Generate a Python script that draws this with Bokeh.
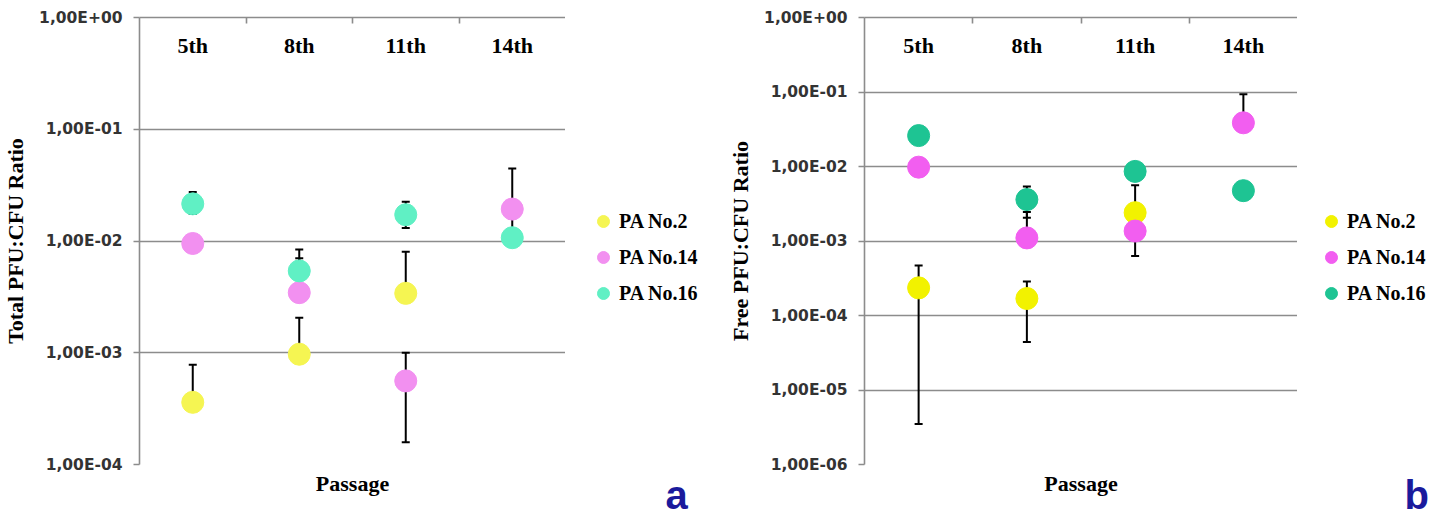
import math
from bokeh.plotting import figure
from bokeh.models import (Range1d, FixedTicker, LinearAxis, Legend, LegendItem, Whisker,
                          TeeHead, ColumnDataSource, CustomJSTickFormatter, Title)
from bokeh.layouts import row
from bokeh.embed import file_html
from bokeh.resources import INLINE
from bokeh.core.properties import value

nan = float("nan")

categories = ["5th", "8th", "11th", "14th"]
series_names = ["PA No.2", "PA No.14", "PA No.16"]

# ---- panel a : Total PFU:CFU ratio ----
a_pa2 = [3.6e-4, 9.7e-4, 3.4e-3, nan]
a_pa2_hi = [7.8e-4, 2.06e-3, 8.0e-3, nan]
a_pa2_lo = [nan, nan, nan, nan]

a_pa14 = [9.5e-3, 3.45e-3, 5.6e-4, 1.93e-2]
a_pa14_hi = [nan, 7.0e-3, 1.0e-3, 4.45e-2]
a_pa14_lo = [nan, nan, 1.58e-4, nan]

a_pa16 = [2.15e-2, 5.4e-3, 1.72e-2, 1.07e-2]
a_pa16_hi = [2.74e-2, 8.4e-3, 2.25e-2, 1.6e-2]
a_pa16_lo = [1.74e-2, nan, 1.31e-2, nan]

a_ticks = [1e-4, 1e-3, 1e-2, 1e-1, 1.0]
a_tick_labels = ["1,00E-04", "1,00E-03", "1,00E-02", "1,00E-01", "1,00E+00"]

# ---- panel b : Free PFU:CFU ratio ----
b_pa2 = [2.35e-4, 1.69e-4, 2.4e-3, nan]
b_pa2_hi = [4.7e-4, 2.87e-4, 5.6e-3, nan]
b_pa2_lo = [3.5e-6, 4.4e-5, nan, nan]

b_pa14 = [9.8e-3, 1.1e-3, 1.36e-3, 3.86e-2]
b_pa14_hi = [nan, 2.45e-3, 2.1e-3, 9.3e-2]
b_pa14_lo = [nan, nan, 6.3e-4, nan]

b_pa16 = [2.6e-2, 3.6e-3, 8.6e-3, 4.74e-3]
b_pa16_hi = [nan, 5.4e-3, nan, nan]
b_pa16_lo = [nan, 2.05e-3, nan, nan]

b_ticks = [1e-6, 1e-5, 1e-4, 1e-3, 1e-2, 1e-1, 1.0]
b_tick_labels = ["1,00E-06", "1,00E-05", "1,00E-04", "1,00E-03", "1,00E-02", "1,00E-01", "1,00E+00"]

a_colors = ["#f5f552", "#f290f0", "#60f0c4"]
b_colors = ["#f2f200", "#f25ef0", "#1ec493"]

GRID = "#8c8c8c"
SERIF = "Liberation Serif"
H = 522
TOP = 17
BOTTOM = 57


def isnum(v):
    return not (isinstance(v, float) and math.isnan(v))


def make_panel(series, ticks, tick_labels, ylabel, colors, border_left, frame_w):
    n = len(categories)
    xs = [i + 0.5 for i in range(n)]
    p = figure(y_axis_type="log", x_range=Range1d(0, n), y_range=Range1d(ticks[0], ticks[-1]),
               width=border_left + frame_w, height=H, sizing_mode="fixed",
               min_border_left=border_left, min_border_right=0,
               min_border_top=TOP, min_border_bottom=BOTTOM,
               output_backend="svg", toolbar_location=None)
    p.outline_line_color = None
    p.background_fill_color = "white"
    p.border_fill_color = "white"

    yticker = FixedTicker(ticks=ticks)
    p.yaxis.ticker = yticker
    p.ygrid.ticker = yticker
    p.ygrid.grid_line_color = GRID
    p.ygrid.grid_line_width = 1.6
    p.xgrid.visible = False

    fmt = CustomJSTickFormatter(args=dict(tvals=ticks, tlabels=tick_labels), code="""
        let best = 0, bd = Infinity;
        for (let i = 0; i < tvals.length; i++) {
            const d = Math.abs(Math.log10(tick) - Math.log10(tvals[i]));
            if (d < bd) { bd = d; best = i; }
        }
        return tlabels[best];
    """)
    ya = p.yaxis[0]
    ya.formatter = fmt
    ya.axis_line_color = GRID
    ya.axis_line_width = 1.6
    ya.major_tick_line_color = GRID
    ya.major_tick_line_width = 1.6
    ya.major_tick_out = 6
    ya.major_tick_in = 0
    ya.minor_tick_line_color = None
    ya.major_label_standoff = 11
    ya.major_label_text_font = "DejaVu Sans"
    ya.major_label_text_font_style = "bold"
    ya.major_label_text_font_size = "15.5px"
    ya.major_label_text_color = "#333333"
    ya.axis_label = ylabel
    ya.axis_label_text_font = SERIF
    ya.axis_label_text_font_style = "bold"
    ya.axis_label_text_font_size = "22px"
    ya.axis_label_text_color = "black"
    ya.axis_label_standoff = 8

    xa = p.xaxis[0]
    xa.ticker = FixedTicker(ticks=[])
    xa.axis_line_color = None
    xa.major_tick_line_color = None
    xa.minor_tick_line_color = None
    xa.axis_label = "Passage"
    xa.axis_label_text_font = SERIF
    xa.axis_label_text_font_style = "bold"
    xa.axis_label_text_font_size = "22px"
    xa.axis_label_text_color = "black"
    xa.axis_label_standoff = 6

    # top line with small tick marks between the passage groups
    top = LinearAxis(ticker=FixedTicker(ticks=[], minor_ticks=list(range(1, n))))
    top.axis_line_color = GRID
    top.axis_line_width = 1.6
    top.major_tick_line_color = None
    top.minor_tick_line_color = GRID
    top.minor_tick_line_width = 1.6
    top.minor_tick_in = 6
    top.minor_tick_out = 0
    p.add_layout(top, "above")

    p.text(x=xs, y=[ticks[-1]] * n, text=categories, y_offset=28,
           text_align="center", text_baseline="middle",
           text_font=value(SERIF), text_font_style="bold", text_font_size="22px",
           text_color="black")

    for (name, vals, hi, lo), col in zip(series, colors):
        up = [(x, v, h) for x, v, h in zip(xs, vals, hi) if isnum(v) and isnum(h)]
        if up:
            src = ColumnDataSource(dict(x=[u[0] for u in up], y=[u[1] for u in up], hi=[u[2] for u in up]))
            p.add_layout(Whisker(source=src, base="x", lower="y", upper="hi", dimension="height",
                                 line_color="black", line_width=2,
                                 upper_head=TeeHead(size=8, line_width=2, line_color="black"),
                                 lower_head=None, level="underlay"))
        dn = [(x, v, l) for x, v, l in zip(xs, vals, lo) if isnum(v) and isnum(l)]
        if dn:
            src = ColumnDataSource(dict(x=[u[0] for u in dn], y=[u[1] for u in dn], lo=[u[2] for u in dn]))
            p.add_layout(Whisker(source=src, base="x", lower="lo", upper="y", dimension="height",
                                 line_color="black", line_width=2,
                                 lower_head=TeeHead(size=8, line_width=2, line_color="black"),
                                 upper_head=None, level="underlay"))

    for (name, vals, hi, lo), col in zip(series, colors):
        pts = [(x, v) for x, v in zip(xs, vals) if isnum(v)]
        src = ColumnDataSource(dict(x=[q[0] for q in pts], y=[q[1] for q in pts]))
        p.scatter("x", "y", source=src, size=22, marker="circle",
                  fill_color=col, line_color=col, line_width=1)
    return p


def make_side(colors, width, leg_x, letter, letter_offset):
    s = figure(width=width, height=H, sizing_mode="fixed",
               x_range=Range1d(0, 1), y_range=Range1d(0, 1),
               min_border_left=0, min_border_right=0,
               min_border_top=TOP, min_border_bottom=BOTTOM,
               x_axis_location=None, y_axis_location=None,
               output_backend="svg", toolbar_location=None)
    s.outline_line_color = None
    s.xgrid.visible = False
    s.ygrid.visible = False
    items = []
    for name, col in zip(series_names, colors):
        # legend swatch only: one point kept outside the visible range
        r = s.scatter(x=[-1], y=[-1], size=22, marker="circle", fill_color=col, line_color=col)
        items.append(LegendItem(label=name, renderers=[r]))
    leg = Legend(items=items, location=(leg_x, 154), glyph_width=30, glyph_height=34,
                 spacing=2, padding=0, margin=0, label_standoff=1,
                 border_line_color=None, background_fill_alpha=0,
                 label_text_font=SERIF, label_text_font_style="bold",
                 label_text_font_size="20px", label_text_color="black")
    s.add_layout(leg)
    s.add_layout(Title(text=letter, align="left", offset=letter_offset, standoff=12,
                       text_font="Liberation Sans", text_font_style="bold",
                       text_font_size="40px", text_color="#1a1a9c"), "below")
    return s


pa = make_panel([(series_names[0], a_pa2, a_pa2_hi, a_pa2_lo),
                 (series_names[1], a_pa14, a_pa14_hi, a_pa14_lo),
                 (series_names[2], a_pa16, a_pa16_hi, a_pa16_lo)],
                a_ticks, a_tick_labels, "Total PFU:CFU Ratio", a_colors, 133, 432)
sa = make_side(a_colors, 160, 23, "a", 100)

pb = make_panel([(series_names[0], b_pa2, b_pa2_hi, b_pa2_lo),
                 (series_names[1], b_pa14, b_pa14_hi, b_pa14_lo),
                 (series_names[2], b_pa16, b_pa16_hi, b_pa16_lo)],
                b_ticks, b_tick_labels, "Free PFU:CFU Ratio", b_colors, 138, 434)
sb = make_side(b_colors, 148, 19, "b", 107)

layout = row(pa, sa, pb, sb)
open("out.html", "w").write(file_html(layout, INLINE))
